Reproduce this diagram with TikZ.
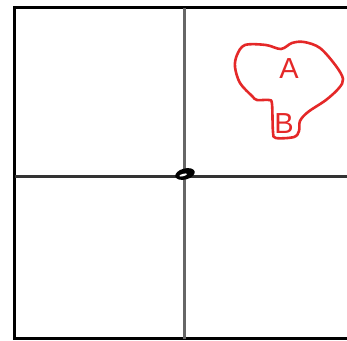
\documentclass[tikz,border=0pt]{standalone}
\usepackage{fontspec}
\setmainfont{Liberation Sans}
\definecolor{regionred}{RGB}{228,40,40}
\begin{document}
\begin{tikzpicture}[x=1pt, y=-1pt]

    % Canvas
\useasboundingbox (0,0) rectangle (347,340);

% Frame
\draw[line width=3.2pt] (347,7.5) -- (14.5,7.5) -- (14.5,338.5) -- (347,338.5);

% Axes
\draw[line width=2.2pt, black!80] (14.5,176.5) -- (347,176.5);
\draw[line width=2.2pt, black!60] (184.5,7.5) -- (184.5,338.5);

% Marker at the origin
\fill[black, rotate around={15:(185,174)}] (185,174) ellipse (10pt and 5.5pt);
\fill[white, rotate around={15:(185,174)}] (183,174.5) ellipse (4pt and 1.2pt);

% Region
\draw[regionred, line width=2.6pt, line join=round] plot[smooth cycle, tension=0.55] coordinates {
    (237,55) (245,45) (266,45) (281,49) (292,43) (304,42) (320,48)
    (336,66) (343,79) (339,88) (326,100) (308,112) (300,121)
    (299,131) (294,137) (276,138) (273,132) (272,104) (269,100)
    (257,100) (252,96) (240,83) (235,67)};
\node[text=regionred, font=\fontsize{29}{32}\selectfont] (A) at (289,69) {A};
\node[text=regionred, font=\fontsize{29}{32}\selectfont] (B) at (284,124) {B};

\end{tikzpicture}
\end{document}
